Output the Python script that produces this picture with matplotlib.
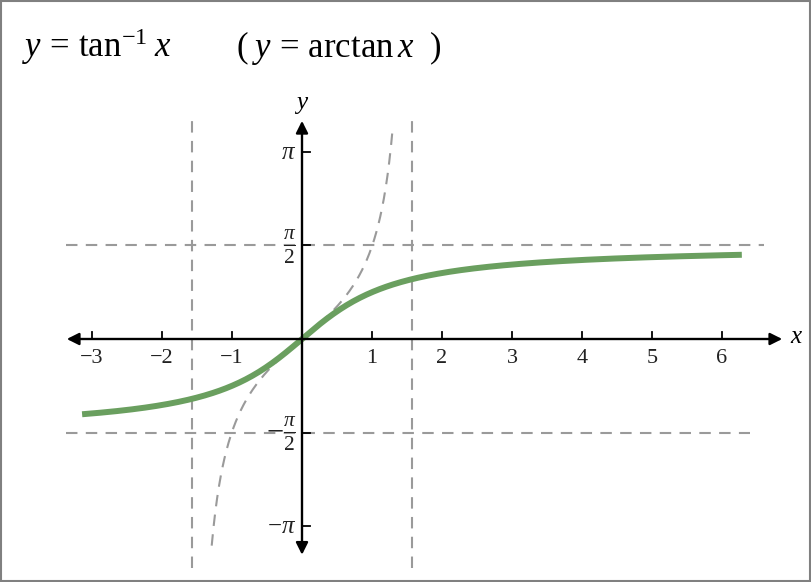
import numpy as np
import matplotlib
matplotlib.use("Agg")
import matplotlib.pyplot as plt
from matplotlib.patches import Rectangle

plt.rcParams['font.family'] = ['Liberation Serif', 'DejaVu Serif']
plt.rcParams['mathtext.fontset'] = 'custom'
plt.rcParams['mathtext.rm'] = 'Liberation Serif'
plt.rcParams['mathtext.it'] = 'Liberation Serif:italic'

# data
x_ticks = [-3, -2, -1, 1, 2, 3, 4, 5, 6]
x_tick_labels = ["\u22123", "\u22122", "\u22121", "1", "2", "3", "4", "5", "6"]
y_ticks = [np.pi, np.pi / 2, -np.pi / 2, -np.pi]
y_tick_labels = [r"$\pi$", r"$\frac{\pi}{2}$", r"$-\frac{\pi}{2}$", r"$-\pi$"]
atan_range = (-np.pi, 2 * np.pi)
tan_range = (-1.29, 1.29)

GREEN = "#6a9f5f"
GRAY = "#9a9a9a"

fig = plt.figure(figsize=(8.12, 5.82), dpi=100)
ax = fig.add_axes([0, 0, 1, 1])
ax.set_xlim(-302 / 70, 510 / 70)
ax.set_ylim(-243 / 59.6, 339 / 59.6)
ax.axis("off")

# asymptote / reference lines
dash = (5.5, 4)
lw_d = 1.5
ax.plot([-3.37, 6.6], [np.pi / 2, np.pi / 2], color=GRAY, lw=lw_d, dashes=dash)
ax.plot([-3.37, 6.4], [-np.pi / 2, -np.pi / 2], color=GRAY, lw=lw_d, dashes=dash)
for xv in (-np.pi / 2, np.pi / 2):
    ax.plot([xv, xv], [-3.84, 3.69], color=GRAY, lw=lw_d, dashes=dash)

# tan curve
xt = np.linspace(tan_range[0], tan_range[1], 300)
ax.plot(xt, np.tan(xt), color=GRAY, lw=lw_d, dashes=dash)

# axes with arrows
ax.annotate("", xy=(6.86, 0), xytext=(-3.36, 0),
            arrowprops=dict(arrowstyle="<|-|>", color="black", lw=1.7, mutation_scale=18,
                            shrinkA=0, shrinkB=0))
ax.annotate("", xy=(0, 3.66), xytext=(0, -3.62),
            arrowprops=dict(arrowstyle="<|-|>", color="black", lw=1.7, mutation_scale=18,
                            shrinkA=0, shrinkB=0))

# ticks
for xv, lab in zip(x_ticks, x_tick_labels):
    ax.plot([xv, xv], [0, 0.11], color="black", lw=1.3)
    ax.text(xv, -0.32, lab, ha="center", va="center", fontsize=16, color="#222222")
for yv, lab in zip(y_ticks, y_tick_labels):
    ax.plot([0, 0.11], [yv, yv], color="black", lw=1.3)
    size = 18 if abs(abs(yv) - np.pi) < 1e-9 else 22
    ax.text(-0.08, yv - 0.02, lab, ha="right", va="center", fontsize=size, color="#222222")

ax.text(6.97, 0.03, "$x$", ha="left", va="center", fontsize=18)
ax.text(0, 3.93, "$y$", ha="center", va="center", fontsize=18)

# arctan curve
xa = np.linspace(atan_range[0], atan_range[1], 400)
ax.plot(xa, np.arctan(xa), color=GREEN, lw=4.3, solid_capstyle="butt")

# heading
fig.text(22 / 812, 1 - 57 / 582, r"$y\,=\,\mathrm{tan}^{-1}\;x$", fontsize=25, va="baseline")
fig.text(236 / 812, 1 - 57 / 582, r"$(\;y\,=\,\mathrm{arctan}\,x\ \ )$", fontsize=25, va="baseline")

# frame
fig.patches.append(Rectangle((0.001, 0.001), 0.997, 0.997, transform=fig.transFigure,
                             fill=False, edgecolor="#808080", lw=1.5))

fig.savefig("out.png", dpi=100)
